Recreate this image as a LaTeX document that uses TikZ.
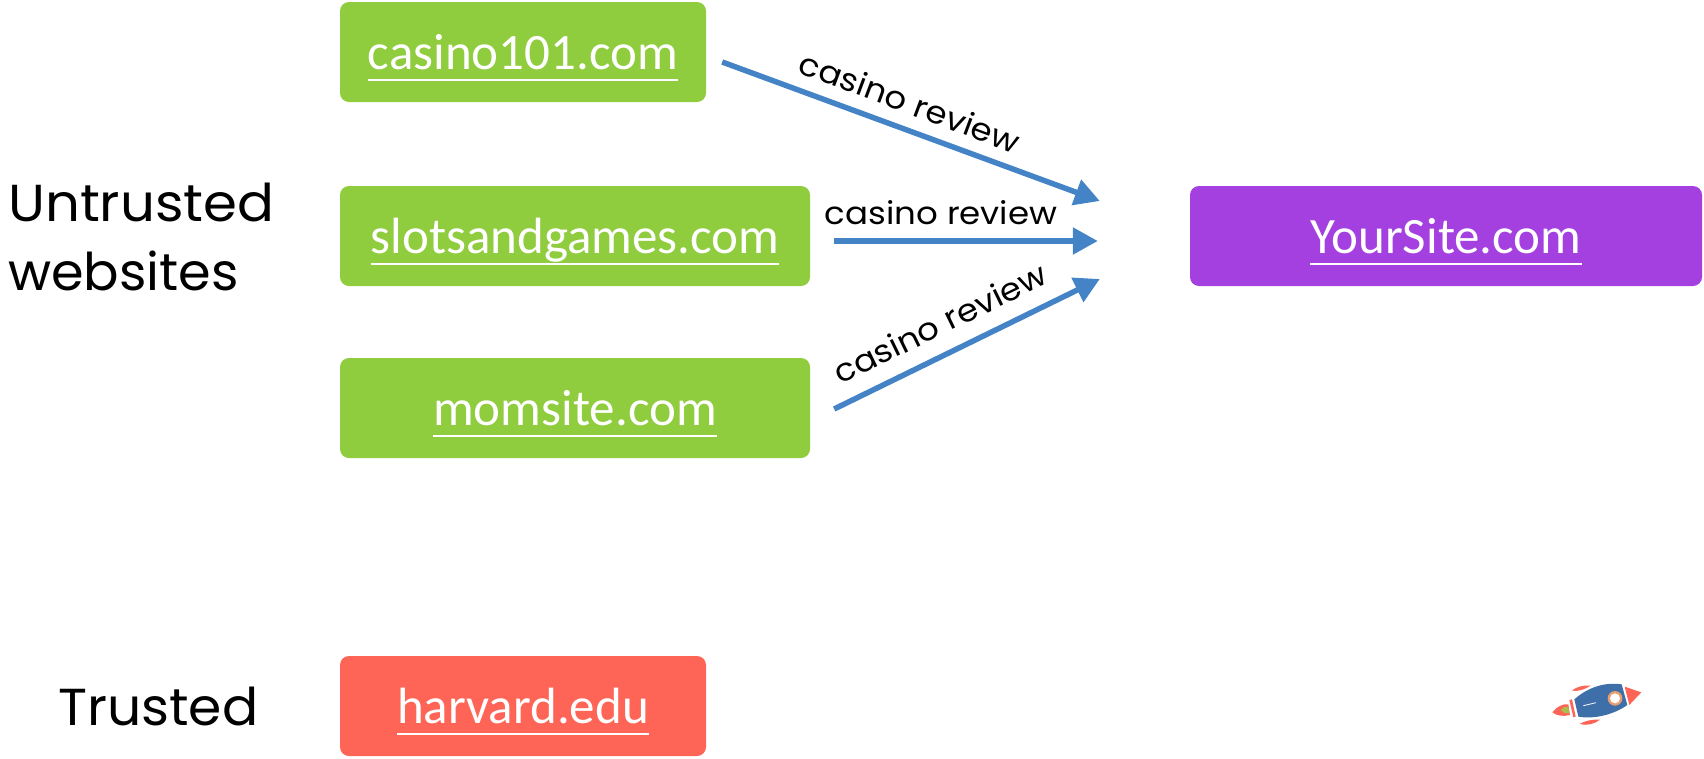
\documentclass[tikz,border=0pt]{standalone}
\usepackage{fontspec}
\usetikzlibrary{calc,arrows.meta}
\setmainfont{Carlito}
\newfontfamily\headfont{Poppins}
\newfontfamily\edgefont[FakeStretch=1.08]{Poppins}
\definecolor{boxgreen}{HTML}{8FCC3E}
\definecolor{boxpurple}{HTML}{A43FE0}
\definecolor{boxred}{HTML}{FF6557}
\definecolor{arrowblue}{HTML}{4484C6}
\definecolor{rocketblue}{HTML}{3F6FA8}
\definecolor{rocketorange}{HTML}{E8A070}
\newlength{\ulw}
\newcommand{\lnk}[1]{\settowidth{\ulw}{#1}\rlap{\rule[-11.2pt]{\ulw}{1.6pt}}#1}
\tikzset{
  sitebox/.style={rounded corners=9pt,text=white,font=\fontsize{51}{51}\selectfont,
    minimum height=100pt,inner sep=0pt,text height=35pt,text depth=0pt,align=center},
  conn/.style={draw=arrowblue,line width=5.5pt,-{Triangle[length=25pt,width=26pt]},shorten >=0pt},
  edgelabel/.style={font=\edgefont\fontsize{31.5}{32}\selectfont,inner sep=0pt,text=black},
  grouplabel/.style={font=\headfont\fontsize{52}{60}\selectfont,inner sep=0pt,text=black,anchor=base west,transform shape}
}
\begin{document}
\begin{tikzpicture}[x=1pt,y=-1pt]
\useasboundingbox (0,0) rectangle (1704,758);
\node[sitebox,fill=boxgreen,minimum width=366pt] (casino) at (523,52) {\lnk{casino101.com}};
\node[sitebox,fill=boxgreen,minimum width=470pt] (slots) at (575,236) {\lnk{slotsandgames.com}};
\node[sitebox,fill=boxgreen,minimum width=470pt] (mom) at (575,408) {\lnk{momsite.com}};
\node[sitebox,fill=boxred,minimum width=366pt] (harvard) at (523,706) {\lnk{harvard.edu}};
\node[sitebox,fill=boxpurple,minimum width=512pt] (your) at (1446,236) {\lnk{YourSite.com}};
\coordinate (outA) at ($(casino.east)+(16,10)$);
\coordinate (outB) at ($(slots.east)+(24,5)$);
\coordinate (outC) at ($(mom.east)+(24,1)$);
\coordinate (tipA) at ($(your.west)+(-90,-35)$);
\coordinate (tipB) at ($(your.west)+(-92,5)$);
\coordinate (tipC) at ($(your.west)+(-90,43)$);
\draw[conn] (outA) -- (tipA);
\draw[conn] (outB) -- (tipB);
\draw[conn] (outC) -- (tipC);
\node[edgelabel,rotate=-20.5] (labA) at (910,102) {casino review};
\node[edgelabel,anchor=base] (labB) at (941,224) {casino review};
\node[edgelabel,rotate=26] (labC) at (940,323) {casino review};
\node[grouplabel,xscale=1.05] (untrusted) at (8,221) {Untrusted};
\node[grouplabel,xscale=1.01] (websites) at (8,290) {websites};
\node[grouplabel,xscale=1.03] (trusted) at (58,725) {Trusted};
\begin{scope}[shift={(1520,660)},x=.3333pt,y=-.3333pt]
 \fill[rocketblue] (163,118) .. controls (200,85) and (250,65) .. (305,73) -- (322,135) .. controls (280,165) and (220,178) .. (175,170) -- cycle;
 \fill[boxred] (314,80) -- (364,97) -- (328,135) -- cycle;
 \fill[boxred] (148,120) -- (156,118) -- (167,170) -- (160,172) -- cycle;
 \fill[boxred] (97,157) .. controls (110,140) and (130,130) .. (145,133) -- (150,165) .. controls (130,170) and (110,168) .. (97,157) -- cycle;
 \fill[boxred] (155,92) .. controls (170,80) and (190,75) .. (212,77) .. controls (195,88) and (175,95) .. (155,92) -- cycle;
 \fill[boxred] (179,192) .. controls (195,182) and (215,178) .. (240,179) .. controls (225,192) and (200,198) .. (179,192) -- cycle;
 \fill[boxgreen!70!rocketorange] (122,150) .. controls (128,142) and (138,138) .. (145,140) -- (148,160) .. controls (138,162) and (128,158) .. (122,150) -- cycle;
 \fill[rocketorange] (285,115) circle[radius=22];
 \fill[white] (285,115) circle[radius=15];
 \draw[white,line width=.8pt] (190,137) -- (228,128);
\end{scope}
\end{tikzpicture}
\end{document}
